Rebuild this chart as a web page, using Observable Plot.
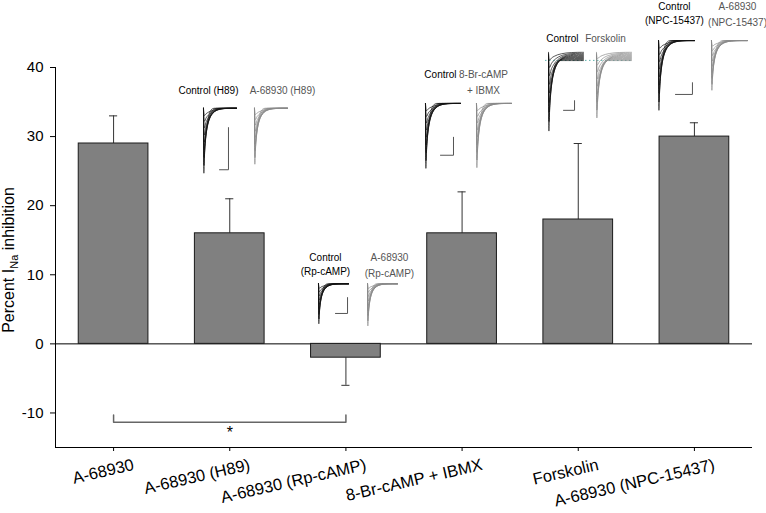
<!DOCTYPE html>
<html>
<head>
<meta charset="utf-8">
<script src="https://cdn.jsdelivr.net/npm/d3@7"></script>
<script src="https://cdn.jsdelivr.net/npm/@observablehq/plot@0.6"></script>
<style>
  html, body { margin: 0; padding: 0; background: #fff; }
  #chart { width: 766px; height: 513px; }
</style>
</head>
<body>
<div id="chart"></div>
<script>
// ---- chart data ----
const categories = ["A-68930", "A-68930 (H89)", "A-68930 (Rp-cAMP)", "8-Br-cAMP + IBMX", "Forskolin", "A-68930 (NPC-15437)"];
const values = [29, 16, -2, 16, 18, 30];
const errors = [4, 5, -4, 6, 11, 2];
const yTicks = [-10, 0, 10, 20, 30, 40];
const bracketFrom = 0, bracketTo = 2;   // significance between categories 0 and 2
const starLabel = "*";

// ---- inset current traces (shape, normalized) ----
const traceShape = [[0,0],[0.015,-0.9],[0.035,-1],[0.09,-0.74],[0.17,-0.52],[0.27,-0.33],[0.39,-0.19],[0.53,-0.09],[0.7,-0.03],[0.88,-0.005],[1,0]];
const traceAmps = [1, 0.88, 0.76, 0.64, 0.52, 0.41, 0.3, 0.2, 0.11];
const traceStretch = [0.32, 0.4, 0.48, 0.56, 0.64, 0.72, 0.8, 0.88, 0.95];
const forskolinLift = [0, 0.15, 0.3, 0.45, 0.6, 0.75, 0.9, 1.05, 1.2];

// inset labels
const insetTitlesBlack = [["Control (H89)"], ["Control", "(Rp-cAMP)"], ["Control"], ["Control"], ["Control", "(NPC-15437)"]];
const insetTitlesGray = [["A-68930 (H89)"], ["A-68930", "(Rp-cAMP)"], ["8-Br-cAMP", "+ IBMX"], ["Forskolin"], ["A-68930", "(NPC-15437)"]];

// ---- annotation layout (in chart data units) ----
const insetLayout = [
  {xb: 0.774, xg: 1.213, w: 0.284, base: 34.1, db: 9.4, dg: 8.1, lxb: 0.817, lxg: 1.454, ly: 36.7, sb: [0.912, 0.989, 31.3, 25.2]},
  {xb: 1.764, xg: 2.186, w: 0.258, base: 8.7, db: 5.8, dg: 6.1, lxb: 1.824, lxg: 2.375, ly: 12.4, sb: [1.910, 2.014, 6.7, 4.4]},
  {xb: 2.685, xg: 3.124, w: 0.301, base: 34.8, db: 9.4, dg: 9.3, lxb: 2.814, lxg: 3.184, ly: 38.9, sb: [2.814, 2.926, 29.9, 27.3]},
  {xb: 3.744, xg: 4.157, w: 0.301, base: 41.0, db: 10.2, dg: 8.3, lxb: 3.864, lxg: 4.234, ly: 44.2, sb: [3.873, 3.968, 35.2, 33.8]},
  {xb: 4.691, xg: 5.147, w: 0.31, base: 43.9, db: 10.1, dg: 7.2, lxb: 4.828, lxg: 5.371, ly: 48.8, sb: [4.837, 4.983, 37.8, 36.1]}
];

// ---- build tables ----
const bars = categories.map((c, i) => ({i, c, v: values[i], e: errors[i]}));

const traceRows = [];
insetLayout.forEach((L, n) => {
  [["black", L.xb, L.db], ["gray", L.xg, L.dg]].forEach(([fam, x0, depth]) => {
    traceAmps.forEach((a, k) => {
      const lift = n === 3 ? forskolinLift[k] : 0;
      const key = `${n}-${fam}-${k}`;
      traceShape.forEach(([t, v]) => {
        traceRows.push({key, fam, x: x0 + t * traceStretch[k] * L.w, y: L.base + lift + v * a * depth});
      });
      traceRows.push({key, fam, x: x0 + L.w, y: L.base + lift});
    });
  });
});

const scaleBars = [];
insetLayout.forEach((L, n) => {
  const [xh, xv, yt, yb] = L.sb;
  scaleBars.push({key: n, x: xh, y: yb}, {key: n, x: xv, y: yb}, {key: n, x: xv, y: yt});
});

const insetLabels = [];
insetLayout.forEach((L, n) => {
  insetTitlesBlack[n].forEach((t, j) => insetLabels.push({x: L.lxb, y: L.ly - j * 2.0, t, fill: "#000"}));
  insetTitlesGray[n].forEach((t, j) => insetLabels.push({x: L.lxg, y: L.ly - j * 2.3, t, fill: "#555"}));
});

const bracket = [[bracketFrom, -10.3], [bracketFrom, -11.35], [bracketTo, -11.35], [bracketTo, -10.3]];

const chart = Plot.plot({
  width: 766,
  height: 513,
  marginLeft: 55,
  marginRight: 14,
  marginTop: 67,
  marginBottom: 66,
  style: {fontFamily: "'Liberation Sans', Arial, sans-serif", background: "#fff", color: "#000"},
  x: {domain: [-0.5, 5.5], axis: null},
  y: {domain: [-15, 40], axis: null},
  marks: [
    Plot.axisY({ticks: yTicks, tickSize: 5, tickPadding: 7, fontSize: 15, label: null, tickFormat: d => String(d)}),
    Plot.axisX({ticks: d3.range(categories.length), tickSize: 4, tickFormat: () => "", label: null}),
    Plot.ruleX([-0.5], {y1: -15, y2: 40, stroke: "#000"}),
    Plot.ruleY([-15], {stroke: "#000"}),
    Plot.ruleY([0], {stroke: "#000"}),
    Plot.text(bars, {x: "i", y: -15, text: "c", rotate: -13, textAnchor: "end", lineAnchor: "middle", dx: 20, dy: 17, fontSize: 16.5, fill: "#000"}),
    Plot.ruleX(bars, {x: "i", y1: "v", y2: d => d.v + d.e, stroke: "#333"}),
    Plot.ruleY(bars, {y: d => d.v + d.e, x1: d => d.i - 0.035, x2: d => d.i + 0.035, stroke: "#333"}),
    Plot.rectY(bars, {x1: d => d.i - 0.3, x2: d => d.i + 0.3, y1: 0, y2: "v", fill: "#808080", stroke: "#1a1a1a"}),
    Plot.line(bracket, {x: d => d[0], y: d => d[1], stroke: "#666"}),
    Plot.text([starLabel], {x: (bracketFrom + bracketTo) / 2, y: -12.9, text: d => d, fontSize: 16, fill: "#000"}),
    Plot.ruleY([41.03], {x1: 3.718, x2: 4.467, stroke: "#5fb3ad", strokeDasharray: "1.5,2.5"}),
    Plot.line(traceRows, {x: "x", y: "y", z: "key", stroke: d => d.fam === "black" ? "#111" : "#8a8a8a", strokeWidth: 0.7, curve: "monotone-x"}),
    Plot.line(scaleBars, {x: "x", y: "y", z: "key", stroke: "#555", strokeWidth: 1}),
    Plot.text(insetLabels, {x: "x", y: "y", text: "t", fill: "fill", fontSize: 10})
  ]
});

const svg = d3.select(chart);
const title = svg.append("text")
  .attr("transform", "translate(14,260) rotate(-90)")
  .attr("text-anchor", "middle")
  .attr("font-size", 16)
  .attr("fill", "#000");
title.append("tspan").text("Percent I");
title.append("tspan").attr("font-size", 11).attr("dy", 4).text("Na");
title.append("tspan").attr("dy", -4).text(" inhibition");

document.getElementById("chart").appendChild(chart);
</script>
</body>
</html>
